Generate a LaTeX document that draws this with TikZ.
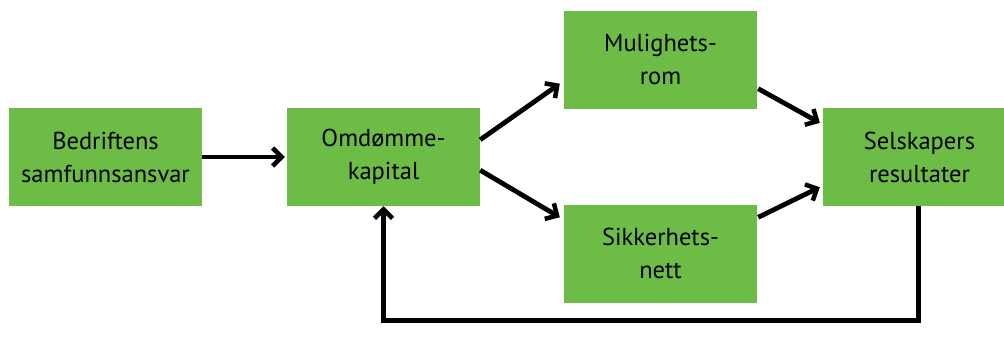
\documentclass[tikz,border=0pt]{standalone}
\usepackage{fontspec}
\setmainfont{PT Sans}
\usetikzlibrary{arrows.meta,calc}
\definecolor{boxgreen}{RGB}{108,188,70}
\begin{document}
\begin{tikzpicture}[x=1pt,y=1pt,
  box/.style={rectangle,fill=boxgreen,minimum width=193pt,minimum height=98pt,inner sep=0pt,
    align=center,font=\fontsize{24.5}{33}\selectfont},
  conn/.style={line width=4.8pt,-{Straight Barb[length=9pt,width=18pt,line width=4.5pt]}}]
\useasboundingbox (0,0) rectangle (1004,-343);
\node[box] (b1) at (105.5,-157) {Bedriftens\\samfunnsansvar};
\node[box] (b2) at (383.5,-157) {Omdømme-\\kapital};
\node[box] (b3) at (660.5,-59.5) {Mulighets-\\rom};
\node[box] (b4) at (660.5,-253.5) {Sikkerhets-\\nett};
\node[box] (b5) at (919.5,-157) {Selskapers\\resultater};
\draw[conn] (b1.east) -- ([xshift=-2pt]b2.west);
\draw[conn] ([yshift=-32pt]b2.north east) -- ([xshift=-4pt,yshift=25pt]b3.south west);
\draw[conn] ([yshift=36pt]b2.south east) -- ([xshift=-4pt,yshift=-13pt]b4.north west);
\draw[conn] ([xshift=1pt,yshift=20pt]b3.south east) -- ([xshift=-3pt,yshift=-15pt]b5.north west);
\draw[conn] ([xshift=1pt,yshift=-13pt]b4.north east) -- ([xshift=-3pt,yshift=19pt]b5.south west);
\draw[conn] ([xshift=-1pt]b5.south) -- ++(0,-114) -| (b2.south);
\end{tikzpicture}
\end{document}
